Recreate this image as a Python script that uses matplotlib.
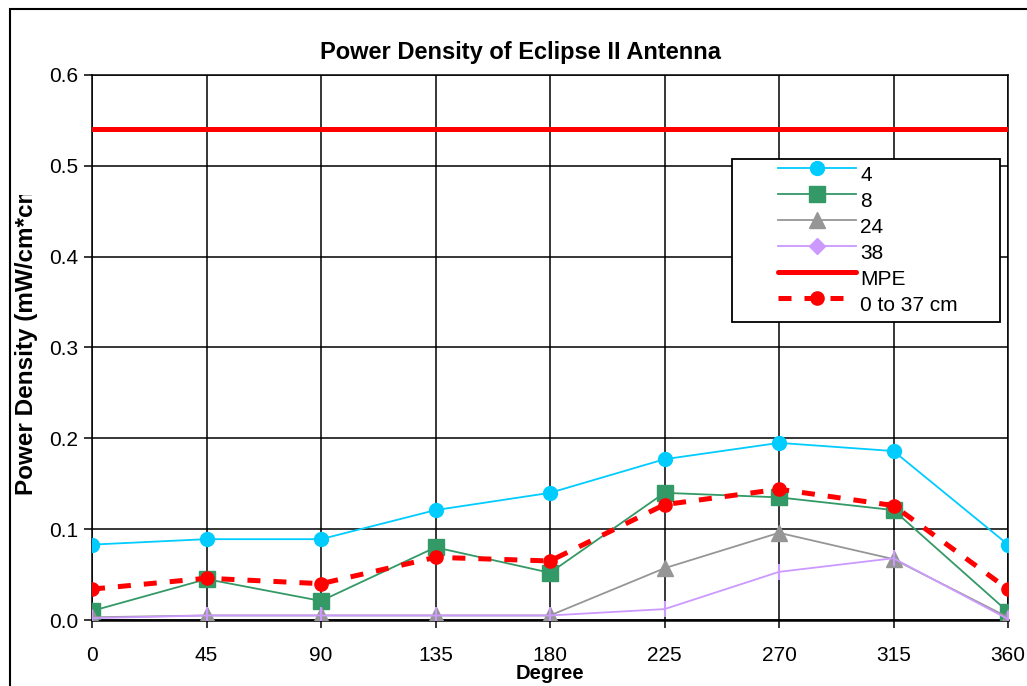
import matplotlib
matplotlib.use("Agg")
import numpy as np
import matplotlib.pyplot as plt
from matplotlib.lines import Line2D
from matplotlib.patches import Rectangle
from matplotlib.transforms import Bbox
from matplotlib.legend_handler import HandlerLine2D

plt.rcParams["font.family"] = ["Liberation Sans", "DejaVu Sans"]

# データ
degrees = [0, 45, 90, 135, 180, 225, 270, 315, 360]
pd_4 = [0.083, 0.089, 0.089, 0.121, 0.140, 0.177, 0.195, 0.186, 0.083]
pd_8 = [0.010, 0.045, 0.021, 0.080, 0.052, 0.140, 0.135, 0.121, 0.009]
pd_24 = [0.003, 0.005, 0.005, 0.005, 0.005, 0.057, 0.096, 0.067, 0.003]
pd_38 = [0.002, 0.005, 0.005, 0.005, 0.005, 0.012, 0.053, 0.068, 0.001]
pd_0_37 = [0.034, 0.046, 0.040, 0.069, 0.065, 0.127, 0.144, 0.126, 0.034]
mpe = 0.54
series_labels = ["4", "8", "24", "38", "MPE", "0 to 37 cm"]


# 凡例の線を右と上にずらす（Excel風）
class ShiftedHandler(HandlerLine2D):
    def create_artists(self, legend, orig_handle, xdescent, ydescent,
                       width, height, fontsize, trans):
        arts = super().create_artists(legend, orig_handle, xdescent, ydescent,
                                      width, height, fontsize, trans)
        for a in arts:
            x = a.get_xdata()
            y = a.get_ydata()
            a.set_xdata(np.linspace(x[0] + 27.4, x[-1], len(x)))
            a.set_ydata(np.asarray(y) + 4.0)
        return arts


fig = plt.figure(figsize=(10.27, 6.86), dpi=100)
ax = fig.add_axes([0.0896, 0.0962, 0.8919, 0.7945])

ax.plot(degrees, pd_4, color="#00CCFF", lw=1.3, marker="o", ms=10, zorder=4)
ax.plot(degrees, pd_8, color="#339966", lw=1.3, marker="s", ms=12, zorder=4)
ax.plot(degrees, pd_24, color="#969696", lw=1.3, marker="^", ms=12, zorder=4)
ax.plot(degrees, pd_38, color="#CC99FF", lw=1.3, marker="|", ms=12, mew=1.5, zorder=4)
ax.plot([degrees[0], degrees[-1]], [mpe, mpe], color="#FF0000", lw=3.6,
        solid_capstyle="round", zorder=3)
ax.plot(degrees, pd_0_37, color="#FF0000", lw=3.6, ls=(0, (2.6, 2.6)),
        marker="o", ms=9.5, zorder=5)

ax.set_xlim(0, 360)
ax.set_ylim(0, 0.6)
ax.set_xticks(degrees)
ax.set_yticks([0.0, 0.1, 0.2, 0.3, 0.4, 0.5, 0.6])
ax.set_yticklabels(["0.0", "0.1", "0.2", "0.3", "0.4", "0.5", "0.6"])
ax.grid(True, color="black", lw=1.1)
ax.set_axisbelow(True)
for s in ax.spines.values():
    s.set_linewidth(1.1)
ax.spines["bottom"].set_linewidth(1.8)
ax.tick_params(axis="x", length=6, width=1.1, pad=13, labelsize=15)
ax.tick_params(axis="y", length=6, width=1.1, pad=4, labelsize=15)
ax.set_xlabel("Degree", fontsize=14.5, fontweight="bold", labelpad=-1)

# 凡例（38 は凡例だけ菱形）
handles = [
    Line2D([], [], color="#00CCFF", lw=1.3, marker="o", ms=10),
    Line2D([], [], color="#339966", lw=1.3, marker="s", ms=12),
    Line2D([], [], color="#969696", lw=1.3, marker="^", ms=12),
    Line2D([], [], color="#CC99FF", lw=1.3, marker="D", ms=8),
    Line2D([], [], color="#FF0000", lw=3.6, solid_capstyle="round"),
    Line2D([], [], color="#FF0000", lw=3.6, ls=(0, (2.6, 2.6)), marker="o", ms=9.5),
]
leg = ax.legend(handles, series_labels, loc="upper left",
                bbox_to_anchor=(0.699, 0.549, 0.292, 0.297), mode="expand",
                borderaxespad=0, fontsize=15, handlelength=5.6,
                handletextpad=0.2, labelspacing=0.33, borderpad=0.35,
                fancybox=False, framealpha=1, edgecolor="black",
                handler_map={Line2D: ShiftedHandler()})
leg.get_frame().set_linewidth(1.3)

# タイトル
fig.text(521 / 1027, 1 - 52 / 686, "Power Density of Eclipse II Antenna",
         ha="center", va="center", fontsize=17, fontweight="bold")

# 縦軸ラベル（上が切れている）
yl = fig.text(27 / 1027, 1 - 495 / 686, "Power Density (mW/cm*cm)",
              rotation=90, ha="center", va="bottom", fontsize=17.5, fontweight="bold")
yl.set_clip_box(Bbox([[0, 0], [1027, 686 - 195]]))
yl.set_clip_on(True)

# 外枠
fig.patches.append(Rectangle((10 / 1027, -0.1), 1.2, 1.1 - 9 / 686,
                             transform=fig.transFigure, fill=False,
                             lw=1.5, edgecolor="black"))

fig.savefig("out.png", dpi=100)
